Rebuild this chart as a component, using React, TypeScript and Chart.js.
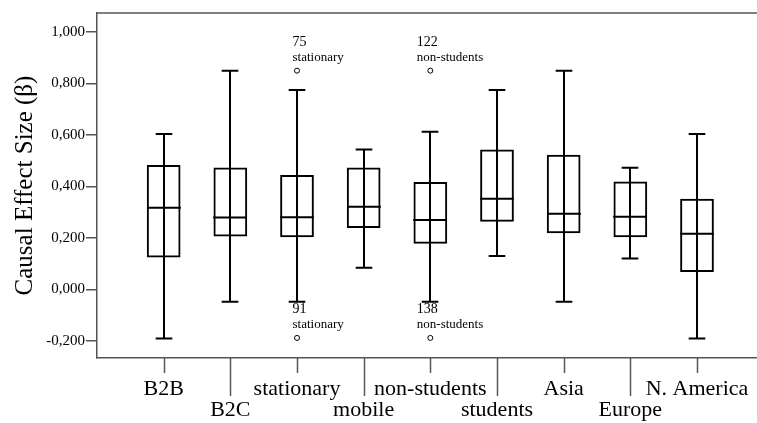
import React, { useEffect, useRef } from 'react';
import { Chart, registerables } from 'chart.js';

Chart.register(...registerables);

const categories = ['B2B', 'B2C', 'stationary', 'mobile', 'non-students', 'students', 'Asia', 'Europe', 'N. America'];
const whiskerLow = [-0.191, -0.049, -0.049, 0.084, -0.049, 0.129, -0.049, 0.119, -0.191];
const q1 = [0.123, 0.205, 0.202, 0.238, 0.177, 0.262, 0.218, 0.202, 0.067];
const median = [0.317, 0.279, 0.28, 0.32, 0.269, 0.352, 0.293, 0.282, 0.216];
const q3 = [0.483, 0.473, 0.444, 0.473, 0.417, 0.543, 0.522, 0.419, 0.352];
const whiskerHigh = [0.603, 0.849, 0.774, 0.543, 0.612, 0.774, 0.849, 0.472, 0.603];

const outlierCategory = [2, 2, 4, 4];
const outlierValue = [0.849, -0.189, 0.849, -0.189];
const outlierCase = ['75', '91', '122', '138'];

const yTicks = [-0.2, 0, 0.2, 0.4, 0.6, 0.8, 1.0];

const SERIF = "'Liberation Serif', 'Times New Roman', serif";
const AXIS_COLOR = '#555555';

const fmt = (v: number) => {
  const r = Math.round(v * 1000) / 1000;
  return (r === 0 ? 0 : r).toFixed(3).replace('.', ',');
};

const boxPlugin = {
  id: 'boxExtras',
  afterDatasetsDraw(chart: any) {
    const { ctx, chartArea, scales } = chart;
    const x = scales.x;
    const y = scales.y;
    ctx.save();
    // top frame line
    ctx.strokeStyle = AXIS_COLOR;
    ctx.lineWidth = 1.5;
    ctx.beginPath();
    ctx.moveTo(chartArea.left, chartArea.top);
    ctx.lineTo(chartArea.right, chartArea.top);
    ctx.stroke();
    // x tick marks (alternating lengths)
    categories.forEach((_, i) => {
      const px = Math.round(x.getPixelForValue(i)) + 0.5;
      const len = i % 2 === 0 ? 15 : 38;
      ctx.beginPath();
      ctx.moveTo(px, chartArea.bottom);
      ctx.lineTo(px, chartArea.bottom + len);
      ctx.stroke();
    });
    // whiskers and medians
    ctx.strokeStyle = '#000';
    ctx.lineWidth = 2;
    categories.forEach((_, i) => {
      const cx = Math.round(x.getPixelForValue(i));
      const capHalf = x.getPixelForValue(i + 0.125) - x.getPixelForValue(i);
      const boxHalf = x.getPixelForValue(i + 0.253) - x.getPixelForValue(i);
      const lo = y.getPixelForValue(whiskerLow[i]);
      const hi = y.getPixelForValue(whiskerHigh[i]);
      const md = y.getPixelForValue(median[i]);
      ctx.beginPath();
      ctx.moveTo(cx, lo);
      ctx.lineTo(cx, hi);
      ctx.moveTo(cx - capHalf, lo);
      ctx.lineTo(cx + capHalf, lo);
      ctx.moveTo(cx - capHalf, hi);
      ctx.lineTo(cx + capHalf, hi);
      ctx.moveTo(cx - boxHalf, md);
      ctx.lineTo(cx + boxHalf, md);
      ctx.stroke();
    });
    // outlier labels
    ctx.fillStyle = '#000';
    ctx.textAlign = 'left';
    ctx.textBaseline = 'middle';
    outlierCategory.forEach((c, k) => {
      const cx = x.getPixelForValue(c);
      const cy = y.getPixelForValue(outlierValue[k]);
      const shift = outlierCase[k].length > 2 ? 13.5 : 4.5;
      ctx.font = `14px ${SERIF}`;
      ctx.fillText(outlierCase[k], cx - shift, cy - 28.5);
      ctx.font = `13px ${SERIF}`;
      ctx.fillText(categories[c], cx - shift, cy - 13);
    });
    ctx.restore();
  },
};

export default function App() {
  const ref = useRef<HTMLCanvasElement | null>(null);

  useEffect(() => {
    document.body.style.margin = '0';
    const canvas = ref.current;
    if (!canvas) return;
    const chart = new Chart(canvas, {
      type: 'bar',
      data: {
        datasets: [
          {
            type: 'bar',
            data: categories.map((_, i) => ({ x: i, y: [q1[i], q3[i]] })) as any,
            backgroundColor: 'rgba(0,0,0,0)',
            borderColor: '#000',
            borderWidth: 2,
            borderSkipped: false,
            barPercentage: 0.506,
            categoryPercentage: 1,
          } as any,
          {
            type: 'scatter',
            data: outlierCategory.map((c, k) => ({ x: c, y: outlierValue[k] })),
            pointRadius: 2.5,
            pointBorderWidth: 1,
            pointBorderColor: '#000',
            pointBackgroundColor: '#fff',
          } as any,
        ],
      },
      options: {
        responsive: false,
        animation: false,
        layout: { autoPadding: false, padding: { top: 13, left: 0, right: 0, bottom: 0 } },
        plugins: {
          legend: { display: false },
          tooltip: { enabled: false },
        },
        scales: {
          x: {
            type: 'linear',
            offset: false,
            min: -1.0,
            max: 8.9,
            grid: { display: false, offset: false },
            border: { display: true, color: AXIS_COLOR, width: 1.5 },
            afterBuildTicks: (scale: any) => {
              scale.ticks = categories.map((_, i) => ({ value: i }));
            },
            afterFit: (scale: any) => {
              scale.height = 65;
              scale.paddingLeft = 0;
              scale.paddingRight = 0;
            },
            ticks: {
              autoSkip: false,
              maxRotation: 0,
              padding: 12,
              color: '#000',
              font: { family: SERIF, size: 22, lineHeight: 0.977 },
              callback: (v: any) => {
                const i = Math.round(Number(v));
                const label = categories[i] ?? '';
                return i % 2 === 0 ? label : ['', label];
              },
            },
          },
          y: {
            type: 'linear',
            min: -0.267,
            max: 1.073,
            grid: {
              drawOnChartArea: false,
              drawTicks: true,
              tickLength: 11,
              color: AXIS_COLOR,
              lineWidth: 1.5,
            },
            border: { display: true, color: AXIS_COLOR, width: 1.5 },
            afterBuildTicks: (scale: any) => {
              scale.ticks = yTicks.map((v) => ({ value: v }));
            },
            afterFit: (scale: any) => {
              scale.width = 97;
            },
            ticks: {
              padding: 1,
              color: '#000',
              font: { family: SERIF, size: 15 },
              callback: (v: any) => fmt(Number(v)),
            },
            title: {
              display: true,
              text: 'Causal Effect Size (β)',
              color: '#000',
              font: { family: SERIF, size: 25, lineHeight: 1.2 },
              padding: { top: 10, bottom: 0 },
            },
          },
        },
      },
      plugins: [boxPlugin],
    });
    return () => chart.destroy();
  }, []);

  return (
    <div style={{ width: 757, height: 423, background: '#fff' }}>
      <canvas ref={ref} width={757} height={423} style={{ display: 'block' }} />
    </div>
  );
}
